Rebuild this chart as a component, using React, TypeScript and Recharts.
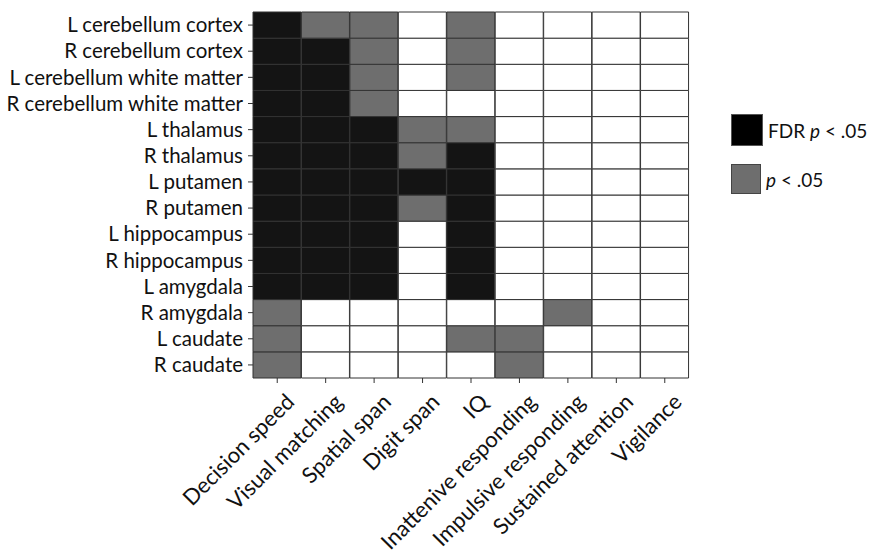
import React from 'react';
import { BarChart, Bar, XAxis, YAxis, Cell } from 'recharts';

const tests = [
  'Decision speed',
  'Visual matching',
  'Spatial span',
  'Digit span',
  'IQ',
  'Inattenive responding',
  'Impulsive responding',
  'Sustained attention',
  'Vigilance',
];

const regions = [
  'L cerebellum cortex',
  'R cerebellum cortex',
  'L cerebellum white matter',
  'R cerebellum white matter',
  'L thalamus',
  'R thalamus',
  'L putamen',
  'R putamen',
  'L hippocampus',
  'R hippocampus',
  'L amygdala',
  'R amygdala',
  'L caudate',
  'R caudate',
];

// 2 = FDR p < .05, 1 = p < .05, 0 = n.s.
const significance: number[][] = [
  [2, 1, 1, 0, 1, 0, 0, 0, 0],
  [2, 2, 1, 0, 1, 0, 0, 0, 0],
  [2, 2, 1, 0, 1, 0, 0, 0, 0],
  [2, 2, 1, 0, 0, 0, 0, 0, 0],
  [2, 2, 2, 1, 1, 0, 0, 0, 0],
  [2, 2, 2, 1, 2, 0, 0, 0, 0],
  [2, 2, 2, 2, 2, 0, 0, 0, 0],
  [2, 2, 2, 1, 2, 0, 0, 0, 0],
  [2, 2, 2, 0, 2, 0, 0, 0, 0],
  [2, 2, 2, 0, 2, 0, 0, 0, 0],
  [2, 2, 2, 0, 2, 0, 0, 0, 0],
  [1, 0, 0, 0, 0, 0, 1, 0, 0],
  [1, 0, 0, 0, 1, 1, 0, 0, 0],
  [1, 0, 0, 0, 0, 1, 0, 0, 0],
];

const levelColors = ['#ffffff', '#6e6e6e', '#141414'];
const FONT = 'Lato, "Open Sans", sans-serif';

const data = tests.map((t) => {
  const row: Record<string, any> = { test: t };
  regions.forEach((_, i) => {
    row['r' + i] = 1;
  });
  return row;
});

const yTicks = regions.map((_, i) => i + 0.5);

const XTick = (props: any) => {
  const { x, y, payload } = props;
  return (
    <g transform={`translate(${x},${y})`}>
      <text
        transform="rotate(-45)"
        textAnchor="end"
        dy={26}
        fontSize={22}
        fontFamily={FONT}
        fill="#111"
      >
        {payload.value}
      </text>
    </g>
  );
};

export default function App() {
  const stackOrder = regions.map((_, i) => regions.length - 1 - i); // bottom first
  return (
    <div style={{ position: 'absolute', left: 0, top: 0, width: 871, height: 559, background: '#fff', overflow: 'hidden' }}>
      <BarChart
        width={871}
        height={559}
        data={data}
        margin={{ top: 12, right: 182, left: 0, bottom: 0 }}
        barCategoryGap={0}
        barGap={0}
      >
        <XAxis
          dataKey="test"
          type="category"
          axisLine={false}
          tickLine={{ stroke: '#333' }}
          tickSize={5}
          height={181}
          interval={0}
          tick={<XTick />}
        />
        <YAxis
          type="number"
          domain={[0, 14]}
          ticks={yTicks}
          tickFormatter={(v: number) => regions[regions.length - 1 - Math.floor(v)]}
          axisLine={false}
          tickLine={{ stroke: '#333' }}
          tickSize={5}
          tickMargin={5}
          width={253}
          interval={0}
          tick={{ fontSize: 20.5, fontFamily: FONT, fill: '#111' }}
        />
        {stackOrder.map((ri) => (
          <Bar
            key={ri}
            dataKey={'r' + ri}
            stackId="grid"
            stroke="#333"
            strokeWidth={1}
            isAnimationActive={false}
          >
            {tests.map((t, j) => (
              <Cell key={t} fill={levelColors[significance[ri][j]]} />
            ))}
          </Bar>
        ))}
      </BarChart>
      <div
        style={{
          position: 'absolute',
          left: 731,
          top: 114,
          fontFamily: FONT,
          fontSize: 19,
          color: '#111',
          whiteSpace: 'nowrap',
        }}
      >
        <div style={{ display: 'flex', alignItems: 'center', height: 32 }}>
          <div style={{ width: 30, height: 30, background: '#000', border: '1px solid #555' }} />
          <span style={{ marginLeft: 5 }}>
            FDR <i>p</i> &lt; .05
          </span>
        </div>
        <div style={{ display: 'flex', alignItems: 'center', height: 32, marginTop: 17 }}>
          <div style={{ width: 28, height: 28, background: '#6e6e6e', border: '1px solid #444' }} />
          <span style={{ marginLeft: 5 }}>
            <i>p</i> &lt; .05
          </span>
        </div>
      </div>
    </div>
  );
}
